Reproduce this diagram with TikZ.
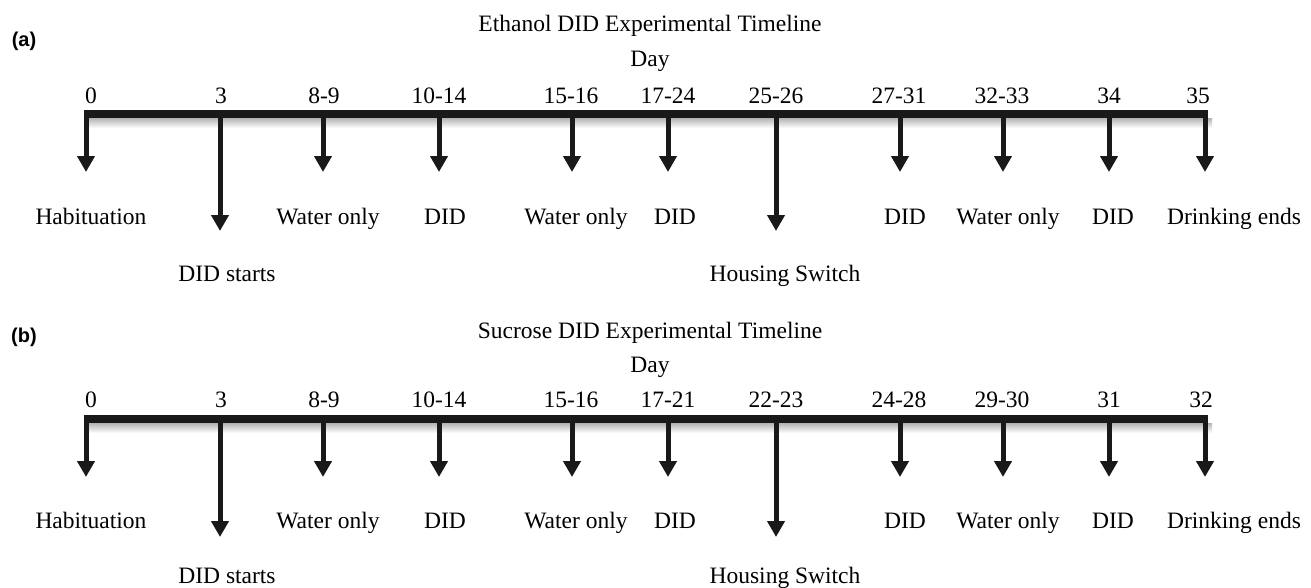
\documentclass[tikz,border=0pt]{standalone}
\usepackage{fontspec}
\setmainfont{Liberation Serif}
\newfontfamily\panelfont{Liberation Sans}
\usetikzlibrary{arrows.meta}
\begin{document}
\begin{tikzpicture}[x=1pt,y=-1pt,
  txt/.style={font=\fontsize{23.5}{28}\selectfont, inner sep=0pt, anchor=base},
  panel/.style={font=\panelfont\bfseries\fontsize{20}{24}\selectfont, inner sep=0pt},
  bar/.style={line width=8pt, color=black!90},
  tick/.style={line width=5pt, color=black!90, -{Triangle[width=17pt,length=16pt]}},
  shade/.style={top color=black!30, bottom color=white, draw=none}]
\useasboundingbox (0,0) rectangle (1311,587);

% ---------- panel (a) ----------
\node[panel] (pa) at (24,41) {(a)};
\node[txt] (titleA) at (650,31) {Ethanol DID Experimental Timeline};
\node[txt] (dayA) at (650,66) {Day};
\fill[shade] (84,118) rectangle (1212,128);
\coordinate (barAL) at (83.5,114);
\coordinate (barAR) at (1207.5,114);
\draw[bar] (barAL) -- (barAR);
\foreach \i/\x/\nx/\n/\lx/\lab/\tip/\ly in {
  1/86/91/0/91/Habituation/172/224,
  2/220/221/3/227/DID starts/231/281,
  3/323/324/8-9/328/Water only/172/224,
  4/439/439/10-14/445/DID/172/224,
  5/572/571/15-16/576/Water only/172/224,
  6/668/668/17-24/675/DID/172/224,
  7/776/776/25-26/785/Housing Switch/231/281,
  8/900/899/27-31/905/DID/172/224,
  9/1003/1002/32-33/1008/Water only/172/224,
  10/1109/1109/34/1113/DID/172/224,
  11/1205/1198/35/1234/Drinking ends/172/224}{
  \node[txt] (na\i) at (\nx,103) {\n};
  \coordinate (sa\i) at (\x,111);
  \coordinate (ta\i) at (\x,\tip);
  \draw[tick] (sa\i) -- (ta\i);
  \node[txt] (la\i) at (\lx,\ly) {\lab};
}

% ---------- panel (b) ----------
\node[panel] (pb) at (24,337) {(b)};
\node[txt] (titleB) at (650,338) {Sucrose DID Experimental Timeline};
\node[txt] (dayB) at (650,372) {Day};
\fill[shade] (84,423) rectangle (1212,433);
\coordinate (barBL) at (83.5,419);
\coordinate (barBR) at (1207.5,419);
\draw[bar] (barBL) -- (barBR);
\foreach \i/\x/\nx/\n/\lx/\lab/\tip/\ly in {
  1/86/91/0/91/Habituation/477/528,
  2/220/221/3/227/DID starts/537/583,
  3/323/324/8-9/328/Water only/477/528,
  4/439/439/10-14/445/DID/477/528,
  5/572/571/15-16/576/Water only/477/528,
  6/668/668/17-21/675/DID/477/528,
  7/776/776/22-23/785/Housing Switch/537/583,
  8/900/899/24-28/905/DID/477/528,
  9/1003/1002/29-30/1008/Water only/477/528,
  10/1109/1109/31/1113/DID/477/528,
  11/1205/1201/32/1234/Drinking ends/477/528}{
  \node[txt] (nb\i) at (\nx,407) {\n};
  \coordinate (sb\i) at (\x,416);
  \coordinate (tb\i) at (\x,\tip);
  \draw[tick] (sb\i) -- (tb\i);
  \node[txt] (lb\i) at (\lx,\ly) {\lab};
}
\end{tikzpicture}
\end{document}
